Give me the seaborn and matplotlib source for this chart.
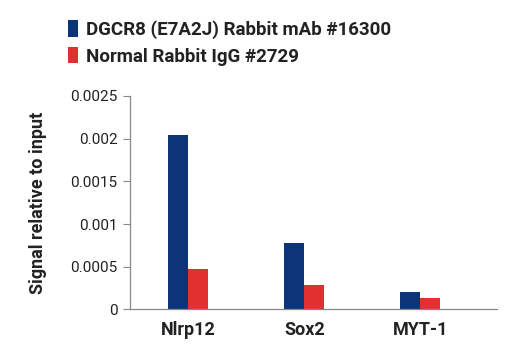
import matplotlib
matplotlib.use("Agg")
import matplotlib.pyplot as plt
import seaborn as sns
import pandas as pd
from matplotlib.patches import Patch

categories = ["Nlrp12", "Sox2", "MYT-1"]
series_names = ["DGCR8 (E7A2J) Rabbit mAb #16300", "Normal Rabbit IgG #2729"]
dgcr8 = [0.00204, 0.000775, 0.000207]
igg = [0.00047, 0.000285, 0.000133]
yticks = [0, 0.0005, 0.001, 0.0015, 0.002, 0.0025]
ytick_labels = ["0", "0.0005", "0.001", "0.0015", "0.002", "0.0025"]
colors = ["#0b3479", "#e0302f"]

df = pd.DataFrame({
    "category": categories * 2,
    "series": [series_names[0]] * 3 + [series_names[1]] * 3,
    "value": dgcr8 + igg,
})

sns.set_theme(style="white")
FONT = ["Roboto", "DejaVu Sans"]
plt.rcParams["font.family"] = FONT

fig = plt.figure(figsize=(5.2, 3.5), dpi=100)
ax = fig.add_axes([0.25, 0.116, 0.706, 0.61])

sns.barplot(data=df, x="category", y="value", hue="series", order=categories,
            hue_order=series_names, palette=colors, width=0.345,
            saturation=1, ax=ax, legend=False, linewidth=0)

ax.set_xlim(-0.5, 2.66)
ax.set_ylim(0, 0.0025)
ax.set_yticks(yticks)
ax.set_yticklabels(ytick_labels, fontsize=11, color="#222222")
ax.set_xlabel("")
ax.set_ylabel("Signal relative to input", fontsize=13, fontweight="bold",
              labelpad=17, color="#222222")
for lab in ax.get_xticklabels():
    lab.set_fontweight("bold")
    lab.set_fontsize(13)
    lab.set_color("#222222")
ax.tick_params(axis="x", length=0, pad=8)
ax.tick_params(axis="y", length=5, width=0.8, color="#888888", left=True, pad=4)
for s in ["top", "right"]:
    ax.spines[s].set_visible(False)
for s in ["left", "bottom"]:
    ax.spines[s].set_color("#888888")
    ax.spines[s].set_linewidth(0.9)

handles = [Patch(facecolor=c, edgecolor="none") for c in colors]
fig.legend(handles, series_names, loc="upper left", bbox_to_anchor=(0.112, 0.97),
           frameon=False, prop={"family": FONT, "weight": "bold", "size": 13.5},
           labelcolor="#222222",
           handlelength=0.55, handleheight=1.0, handletextpad=0.45, labelspacing=0.42,
           borderpad=0)

fig.savefig("out.png", dpi=100)
